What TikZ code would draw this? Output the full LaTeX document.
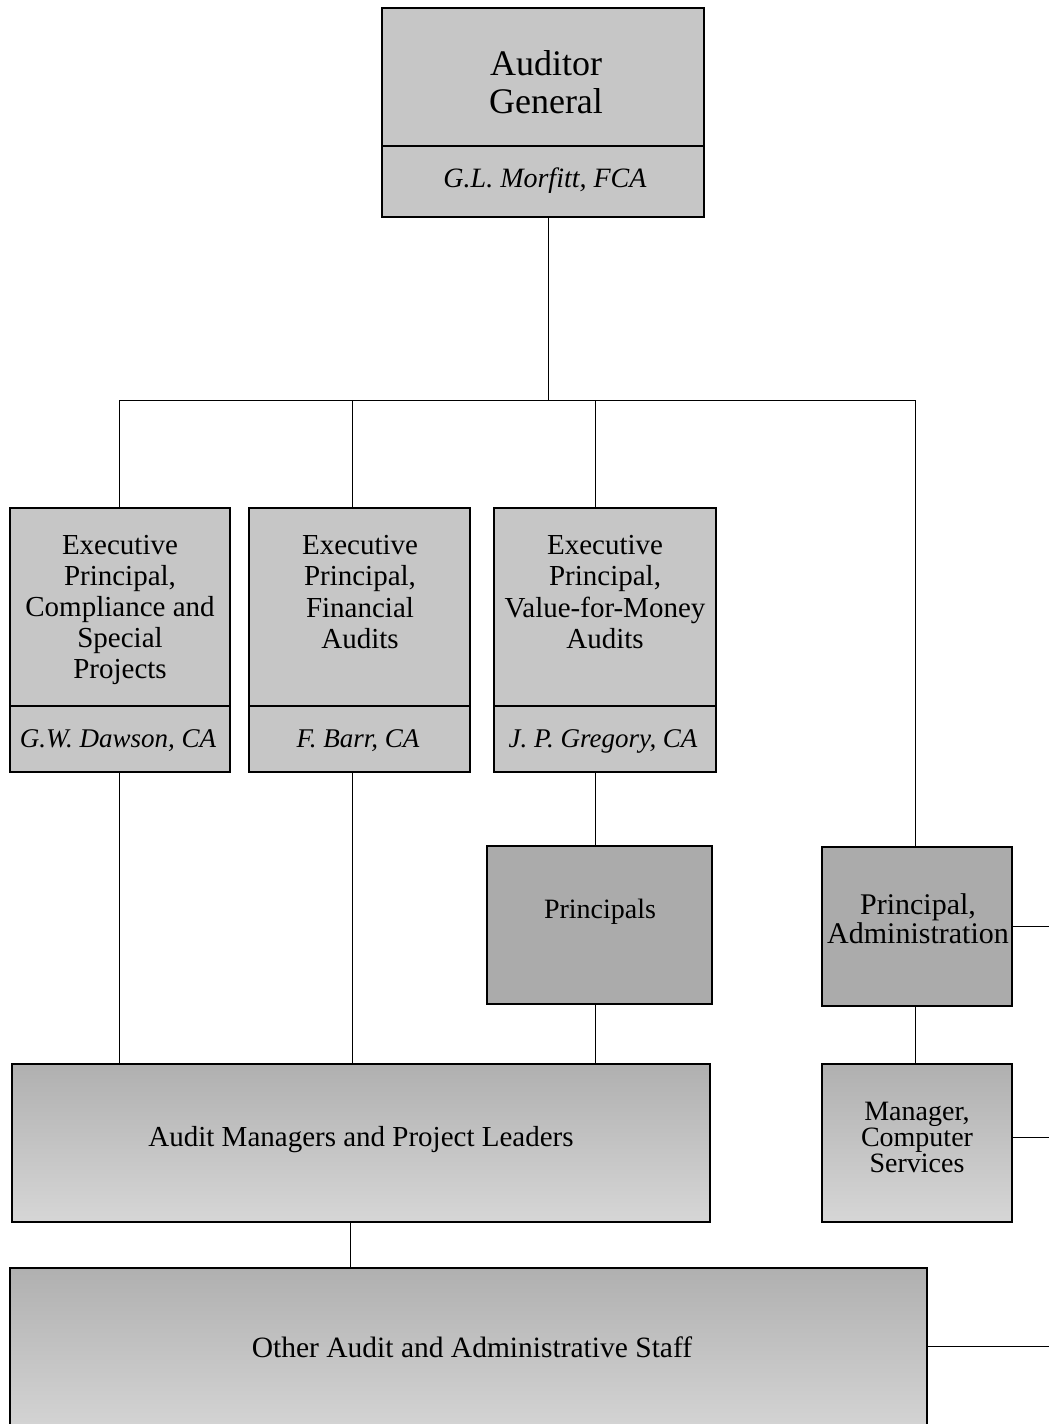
\documentclass[tikz,border=0pt]{standalone}
\usepackage{fontspec}
\setmainfont{Liberation Serif}
\begin{document}
\begin{tikzpicture}[x=1pt,y=-1pt,
  box/.style={draw, line width=1.2pt, inner sep=0pt, fill=gray!45},
  dark/.style={box, fill=gray!66},
  light/.style={box, top color=gray!62, bottom color=gray!32},
  txt/.style={inner sep=0pt, align=center},
  conn/.style={line width=0.9pt}]
\useasboundingbox (0,0) rectangle (1049,1424);
\clip (0,0) rectangle (1049,1424);
% Auditor General
\node[box, minimum width=322, minimum height=138] (agT) at (543,77) {};
\node[box, minimum width=322, minimum height=71] (agN) at (543,181.5) {};
\node[txt, font=\fontsize{36}{38}\selectfont] (agTL) at (546,82) {Auditor\\General};
\node[txt, font=\fontsize{28}{30}\selectfont\itshape] (agNL) at (545,181) {G.L. Morfitt, FCA};
% Executive boxes
\node[box, minimum width=220, minimum height=198] (e1T) at (120,607) {};
\node[box, minimum width=220, minimum height=66] (e1N) at (120,739) {};
\node[box, minimum width=221, minimum height=198] (e2T) at (359.5,607) {};
\node[box, minimum width=221, minimum height=66] (e2N) at (359.5,739) {};
\node[box, minimum width=222, minimum height=198] (e3T) at (605,607) {};
\node[box, minimum width=222, minimum height=66] (e3N) at (605,739) {};
\begin{scope}[every node/.style={txt, font=\fontsize{29}{31.2}\selectfont}]
\node (e1TL) at (120,610) {Executive\\Principal,\\Compliance and\\Special\\Projects};
\node (e2TL) at (360,592) {Executive\\Principal,\\Financial\\Audits};
\node (e3TL) at (605,592) {Executive\\Principal,\\Value-for-Money\\Audits};
\end{scope}
\begin{scope}[every node/.style={txt, font=\fontsize{27}{30}\selectfont\itshape}]
\node (e1NL) at (118,741) {G.W. Dawson, CA};
\node (e2NL) at (358,741) {F. Barr, CA};
\node (e3NL) at (603,741) {J. P. Gregory, CA};
\end{scope}
% Principals
\node[dark, minimum width=225, minimum height=158] (pr) at (599.5,925) {};
\node[txt, font=\fontsize{28}{30}\selectfont] (prL) at (600,912) {Principals};
% Principal, Administration
\node[dark, minimum width=190, minimum height=159] (pa) at (917,926.5) {};
\node[txt, font=\fontsize{30}{29}\selectfont] (paL) at (918,919) {Principal,\\Administration};
% Manager, Computer Services
\node[light, minimum width=190, minimum height=158] (mc) at (917,1143) {};
\node[txt, font=\fontsize{28}{26}\selectfont] (mcL) at (917,1137) {Manager,\\Computer\\Services};
% Audit Managers
\node[light, minimum width=698, minimum height=158] (am) at (361,1143) {};
\node[txt, font=\fontsize{29}{28}\selectfont] (amL) at (361,1140) {Audit Managers and Project Leaders};
% Other staff
\node[light, minimum width=917, minimum height=170] (os) at (468.5,1353) {};
\node[txt, font=\fontsize{29.5}{28}\selectfont] (osL) at (472,1347) {Other Audit and Administrative Staff};
% connectors
\coordinate (bar) at (548,400);
\coordinate (s1) at (1049,926);
\coordinate (s2) at (1049,1137);
\coordinate (s3) at (1049,1346);
\draw[conn] (agN.south -| bar) -- (bar);
\draw[conn] ([xshift=-1pt]e1T.north |- bar) -- ([xshift=-2pt]pa.north |- bar);
\draw[conn] ([xshift=-1pt]e1T.north |- bar) -- ([xshift=-1pt]e1T.north);
\draw[conn] ([xshift=-7.5pt]e2T.north |- bar) -- ([xshift=-7.5pt]e2T.north);
\draw[conn] ([xshift=-10pt]e3T.north |- bar) -- ([xshift=-10pt]e3T.north);
\draw[conn] ([xshift=-2pt]pa.north |- bar) -- ([xshift=-2pt]pa.north);
\draw[conn] ([xshift=-1pt]e1N.south) -- ([xshift=-1pt]e1N.south |- am.north);
\draw[conn] ([xshift=-7.5pt]e2N.south) -- ([xshift=-7.5pt]e2N.south |- am.north);
\draw[conn] ([xshift=-10pt]e3N.south) -- ([xshift=-10pt]e3N.south |- pr.north);
\draw[conn] ([xshift=-10pt]e3N.south |- pr.south) -- ([xshift=-10pt]e3N.south |- am.north);
\draw[conn] ([xshift=-2pt]pa.south) -- ([xshift=-2pt]pa.south |- mc.north);
\draw[conn] ([xshift=-11pt]am.south) -- ([xshift=-11pt]am.south |- os.north);
\draw[conn] (pa.east |- s1) -- (s1);
\draw[conn] (mc.east |- s2) -- (s2);
\draw[conn] (os.east |- s3) -- (s3);
\end{tikzpicture}
\end{document}
